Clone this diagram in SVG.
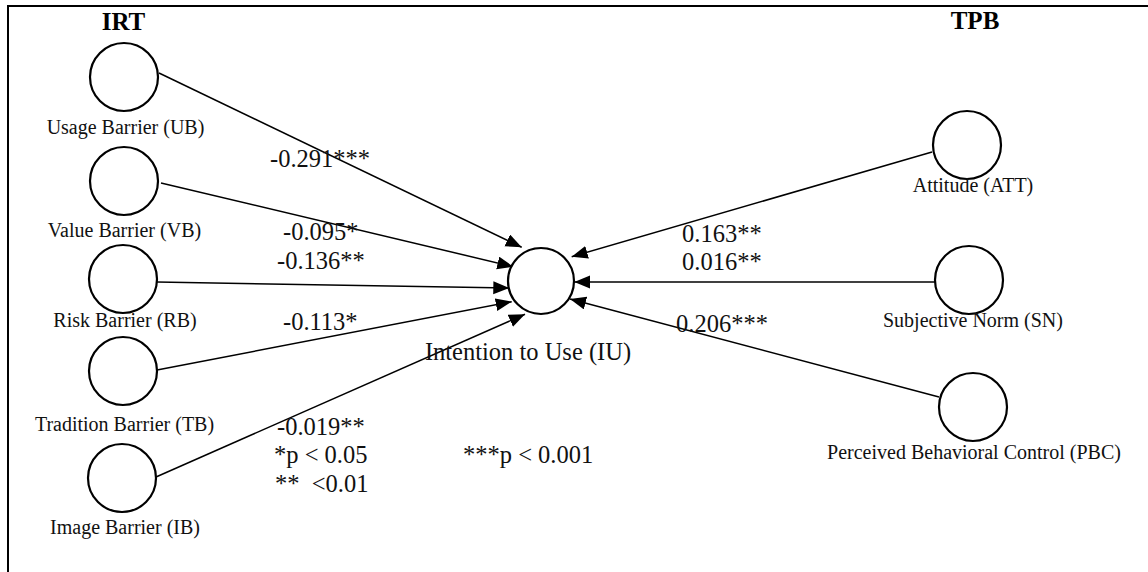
<svg xmlns="http://www.w3.org/2000/svg" width="1148" height="572" viewBox="0 0 1148 572">
<style>
.node circle{fill:#fff;stroke:#000;stroke-width:2.2}
.lbl{font-family:"Liberation Serif","Times New Roman",serif;font-size:20px;fill:#111;text-anchor:middle}
.num{font-family:"Liberation Serif","Times New Roman",serif;font-size:24.5px;fill:#111;white-space:pre}
.hdr{font-family:"Liberation Serif","Times New Roman",serif;font-size:25px;font-weight:bold;fill:#000;text-anchor:middle}
.conn line{stroke:#000;stroke-width:1.5;marker-end:url(#ah)}
</style>
<defs>
<marker id="ah" markerUnits="userSpaceOnUse" markerWidth="18" markerHeight="14" refX="16" refY="6.5" orient="auto">
<path d="M0,0 L16,6.5 L0,13 Z" fill="#000"/>
</marker>
</defs>
<rect width="1148" height="572" fill="#fff"/>
<path d="M8,572 V6 H1148" fill="none" stroke="#000" stroke-width="2"/>
<text class="hdr" x="123.5" y="30">IRT</text>
<text class="hdr" x="975" y="29">TPB</text>
<g id="connectors" class="conn">
<line x1="159" y1="73" x2="521.7" y2="247.3"/>
<line x1="161" y1="183" x2="513.3" y2="266.7"/>
<line x1="157" y1="282" x2="509.3" y2="288"/>
<line x1="157" y1="370" x2="511.7" y2="301.7"/>
<line x1="156" y1="477" x2="525" y2="314.3"/>
<line x1="932" y1="152" x2="571.7" y2="256.7"/>
<line x1="935" y1="282" x2="574.3" y2="282"/>
<line x1="939" y1="397" x2="570" y2="299"/>
</g>
<g id="UB" class="node"><circle cx="124" cy="77" r="34"/><text class="lbl" x="125.5" y="134">Usage Barrier (UB)</text></g>
<g id="VB" class="node"><circle cx="124" cy="181" r="34"/><text class="lbl" x="124.5" y="237">Value Barrier (VB)</text></g>
<g id="RB" class="node"><circle cx="123" cy="279" r="34"/><text class="lbl" x="125" y="327">Risk Barrier (RB)</text></g>
<g id="TB" class="node"><circle cx="123" cy="371" r="34"/><text class="lbl" x="124.5" y="431">Tradition Barrier (TB)</text></g>
<g id="IB" class="node"><circle cx="122" cy="478" r="34"/><text class="lbl" x="125" y="534">Image Barrier (IB)</text></g>
<g id="IU" class="node"><circle cx="541" cy="281" r="33"/><text class="lbl" x="528" y="360" style="font-size:24.5px">Intention to Use (IU)</text></g>
<g id="ATT" class="node"><circle cx="967" cy="145" r="34"/><text class="lbl" x="973" y="192">Attitude (ATT)</text></g>
<g id="SN" class="node"><circle cx="969" cy="280" r="34"/><text class="lbl" x="973" y="327">Subjective Norm (SN)</text></g>
<g id="PBC" class="node"><circle cx="973" cy="407" r="34"/><text class="lbl" x="974" y="459">Perceived Behavioral Control (PBC)</text></g>
<g id="coefficients">
<text class="num" x="270" y="167">-0.291***</text>
<text class="num" x="283" y="240">-0.095*</text>
<text class="num" x="277" y="269">-0.136**</text>
<text class="num" x="283" y="330">-0.113*</text>
<text class="num" x="277" y="435">-0.019**</text>
<text class="num" x="682" y="242">0.163**</text>
<text class="num" x="682" y="270">0.016**</text>
<text class="num" x="676" y="332">0.206***</text>
</g>
<g id="legend">
<text class="num" x="274" y="463">*p &lt; 0.05</text>
<text class="num" x="275" y="492">**  &lt;0.01</text>
<text class="num" x="463" y="463">***p &lt; 0.001</text>
</g>
</svg>
